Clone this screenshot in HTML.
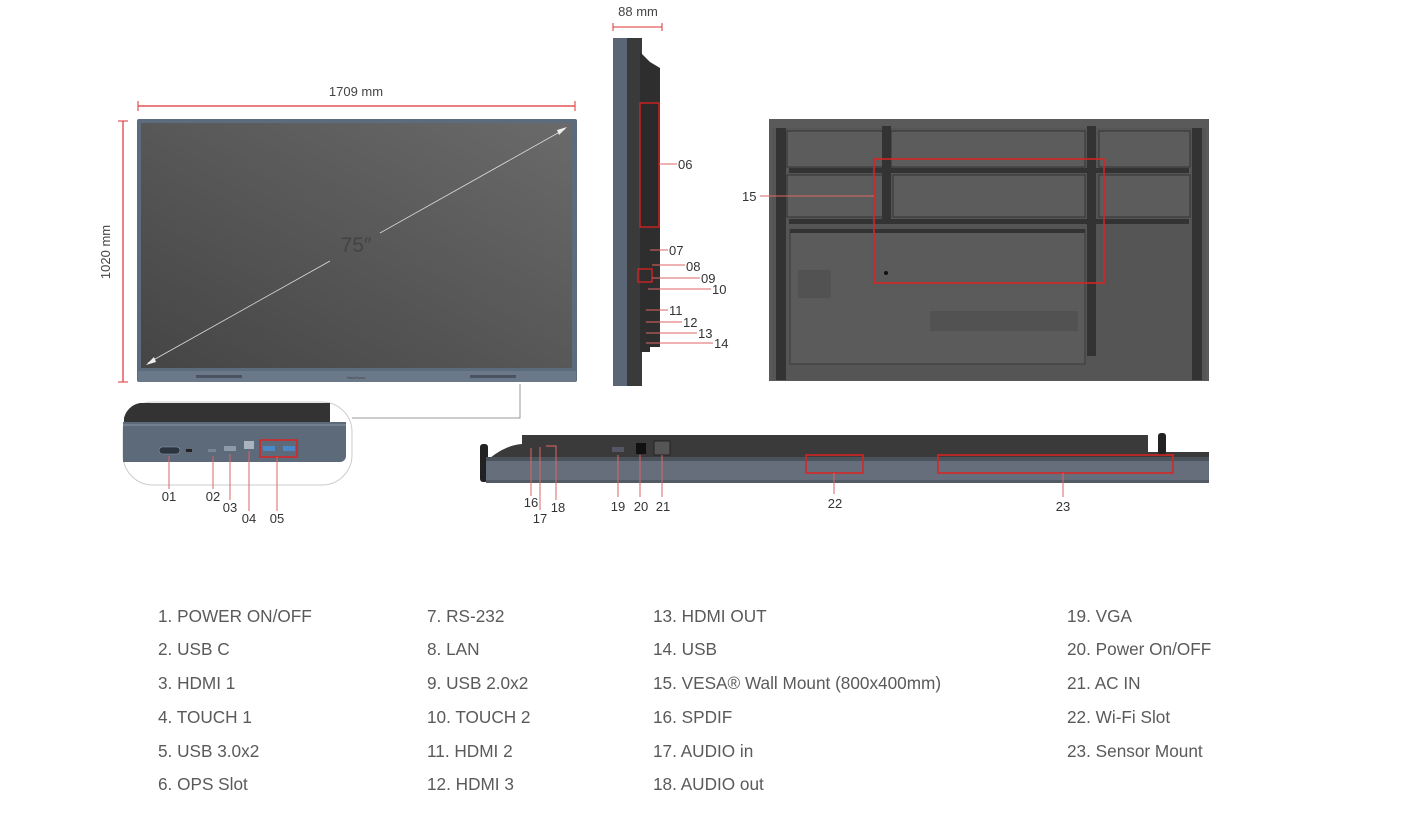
<!DOCTYPE html>
<html><head><meta charset="utf-8"><style>
html,body{margin:0;padding:0;background:#fff;width:1402px;height:815px;overflow:hidden}
svg{display:block}
text{font-family:"Liberation Sans",sans-serif;fill:#444}
.lg{font-size:17.2px;fill:#5a5a5a}
.n{font-size:13px;fill:#333}
</style></head><body>
<svg width="1402" height="815" viewBox="0 0 1402 815" xmlns="http://www.w3.org/2000/svg">
<defs>
<linearGradient id="scr" x1="0" y1="1" x2="1" y2="0">
<stop offset="0" stop-color="#454545"/><stop offset="1" stop-color="#6a6a6a"/></linearGradient>
</defs>
<text x="356" y="96" font-size="13" text-anchor="middle">1709 mm</text>
<line x1="138" y1="106" x2="575" y2="106" stroke="#d33" stroke-width="1.2"/>
<line x1="138" y1="101" x2="138" y2="111" stroke="#d33"/><line x1="575" y1="101" x2="575" y2="111" stroke="#d33"/>
<text x="0" y="0" font-size="13" text-anchor="middle" transform="translate(110 252) rotate(-90)">1020 mm</text>
<line x1="123" y1="121" x2="123" y2="382" stroke="#d33" stroke-width="1.2"/>
<line x1="118" y1="121" x2="128" y2="121" stroke="#d33"/><line x1="118" y1="382" x2="128" y2="382" stroke="#d33"/>
<rect x="137" y="119" width="440" height="263" rx="2" fill="#5d6c7d"/>
<rect x="141" y="123" width="431" height="245" fill="url(#scr)"/>
<rect x="138" y="371" width="438" height="11" fill="#6b7889"/>
<rect x="196" y="375" width="46" height="3" fill="#4a5360"/><rect x="470" y="375" width="46" height="3" fill="#4a5360"/>
<text x="356" y="379" font-size="4" text-anchor="middle" fill="#222">ViewSonic</text>
<line x1="148" y1="363" x2="330" y2="261" stroke="#ddd" stroke-width="0.8"/>
<line x1="380" y1="233" x2="565" y2="129" stroke="#ddd" stroke-width="0.8"/>
<polygon points="146,365 154,357 156,362" fill="#eee"/><polygon points="567,127 559,135 557,130" fill="#eee"/>
<text x="356" y="252" font-size="21" text-anchor="middle" fill="#ececec">75″</text>
<polyline points="352,418 520,418 520,384" fill="none" stroke="#999"/>
<path d="M153,402 H322 A30,30 0 0 1 352,432 V455 A30,30 0 0 1 322,485 H153 A30,30 0 0 1 123,455 V432 A30,30 0 0 1 153,402 Z" fill="#fff" stroke="#ccc"/>
<path d="M140,403 H330 V422 H124 V418 A20,20 0 0 1 140,403 Z" fill="#333"/>
<path d="M123,422 H346 V456 A6,6 0 0 1 340,462 H123 Z" fill="#5c6a7a"/>
<line x1="123" y1="425" x2="346" y2="425" stroke="#8896a5" stroke-width="1"/>
<rect x="159" y="447" width="21" height="7" rx="3.5" fill="#2c3440" stroke="#8a97a6" stroke-width="0.6"/>
<rect x="186" y="449" width="6" height="3" fill="#222"/>
<rect x="208" y="449" width="8" height="3" fill="#7a8593"/>
<rect x="224" y="446" width="12" height="5" fill="#8f9aa8"/>
<rect x="244" y="441" width="10" height="8" fill="#aab4bf"/>
<rect x="260" y="440" width="37" height="17" fill="none" stroke="#d22" stroke-width="1.5"/>
<rect x="263" y="446" width="12" height="5" fill="#4a88c8"/><rect x="283" y="446" width="12" height="5" fill="#4a88c8"/>
<g stroke="#d66" stroke-width="1">
<line x1="169" y1="456" x2="169" y2="489"/><line x1="213" y1="456" x2="213" y2="489"/>
<line x1="230" y1="454" x2="230" y2="500"/><line x1="249" y1="451" x2="249" y2="511"/><line x1="277" y1="457" x2="277" y2="511"/></g>
<text class="n" x="169" y="501" text-anchor="middle">01</text>
<text class="n" x="213" y="501" text-anchor="middle">02</text>
<text class="n" x="230" y="512" text-anchor="middle">03</text>
<text class="n" x="249" y="523" text-anchor="middle">04</text>
<text class="n" x="277" y="523" text-anchor="middle">05</text>
<text x="638" y="16" font-size="13" text-anchor="middle">88 mm</text>
<line x1="613" y1="27" x2="662" y2="27" stroke="#d33"/>
<line x1="613" y1="23" x2="613" y2="31" stroke="#d33"/><line x1="662" y1="23" x2="662" y2="31" stroke="#d33"/>
<rect x="613" y="38" width="14" height="348" fill="#5a6676"/>
<rect x="627" y="38" width="15" height="348" fill="#3a3a3a"/>
<polygon points="640,52 650,62 660,68 660,347 650,347 650,352 640,352" fill="#2e2e2e"/>
<rect x="640" y="103" width="19" height="124" fill="#2a2a2a" stroke="#d22" stroke-width="1.3"/>
<rect x="638" y="269" width="14" height="13" fill="none" stroke="#d22" stroke-width="1.3"/>
<g stroke="#d66" stroke-width="1">
<line x1="659" y1="164" x2="677" y2="164"/><line x1="650" y1="250" x2="668" y2="250"/>
<line x1="652" y1="265" x2="685" y2="265"/><line x1="652" y1="278" x2="700" y2="278"/>
<line x1="648" y1="289" x2="711" y2="289"/><line x1="646" y1="310" x2="668" y2="310"/>
<line x1="646" y1="322" x2="682" y2="322"/><line x1="646" y1="333" x2="697" y2="333"/><line x1="646" y1="343" x2="713" y2="343"/></g>
<text class="n" x="678" y="169">06</text><text class="n" x="669" y="255">07</text>
<text class="n" x="686" y="271">08</text><text class="n" x="701" y="283">09</text>
<text class="n" x="712" y="294">10</text><text class="n" x="669" y="315">11</text>
<text class="n" x="683" y="327">12</text><text class="n" x="698" y="338">13</text><text class="n" x="714" y="348">14</text>
<rect x="769" y="119" width="440" height="262" fill="#5a5a5a"/>
<rect x="772" y="128" width="434" height="252" fill="#555"/>
<rect x="776" y="128" width="10" height="252" fill="#333"/><rect x="1192" y="128" width="10" height="252" fill="#333"/>
<rect x="787" y="131" width="96" height="36" fill="#5c5c5c" stroke="#333"/>
<rect x="891" y="131" width="194" height="36" fill="#5c5c5c" stroke="#333"/>
<rect x="1099" y="131" width="91" height="36" fill="#5c5c5c" stroke="#333"/>
<rect x="787" y="175" width="96" height="42" fill="#5c5c5c" stroke="#333"/>
<rect x="893" y="175" width="192" height="42" fill="#5c5c5c" stroke="#333"/>
<rect x="1099" y="175" width="91" height="42" fill="#5c5c5c" stroke="#333"/>
<rect x="789" y="168" width="400" height="5" fill="#333"/><rect x="789" y="219" width="400" height="5" fill="#333"/>
<rect x="882" y="126" width="9" height="98" fill="#333"/><rect x="1087" y="126" width="9" height="230" fill="#333"/>
<rect x="790" y="230" width="295" height="134" fill="#5b5b5b" stroke="#3a3a3a"/>
<rect x="790" y="229" width="295" height="4" fill="#333"/>
<rect x="930" y="311" width="148" height="20" fill="#525252"/>
<rect x="798" y="270" width="33" height="28" fill="#525252"/>
<circle cx="886" cy="273" r="2" fill="#111"/>
<rect x="874" y="159" width="230" height="124" fill="none" stroke="#d22" stroke-width="1.5"/>
<line x1="760" y1="196" x2="874" y2="196" stroke="#d66"/>
<text class="n" x="742" y="201">15</text>
<rect x="522" y="435" width="626" height="24" fill="#3a3a3a"/>
<rect x="1148" y="452" width="61" height="6" fill="#3a3a3a"/>
<path d="M490,458 C500,450 510,445 522,444 V458 Z" fill="#3a3a3a"/>
<rect x="480" y="444" width="8" height="38" rx="3" fill="#222"/>
<rect x="1158" y="433" width="8" height="22" rx="3" fill="#222"/>
<rect x="486" y="457" width="723" height="26" fill="#656e7a"/>
<rect x="486" y="457" width="723" height="4" fill="#4a525c"/>
<rect x="486" y="480" width="723" height="3" fill="#525a64"/>
<rect x="636" y="443" width="10" height="11" fill="#111"/>
<rect x="654" y="441" width="16" height="14" fill="#555" stroke="#222"/>
<rect x="612" y="447" width="12" height="5" fill="#556"/>
<rect x="806" y="455" width="57" height="18" fill="none" stroke="#d22" stroke-width="1.5"/>
<rect x="938" y="455" width="235" height="18" fill="none" stroke="#d22" stroke-width="1.5"/>
<g stroke="#d66" stroke-width="1">
<line x1="531" y1="448" x2="531" y2="496"/><line x1="540" y1="447" x2="540" y2="510"/>
<polyline points="546,446 556,446 556,500" fill="none"/>
<line x1="618" y1="455" x2="618" y2="497"/><line x1="640" y1="455" x2="640" y2="497"/><line x1="662" y1="455" x2="662" y2="497"/>
<line x1="834" y1="473" x2="834" y2="494"/><line x1="1063" y1="473" x2="1063" y2="497"/></g>
<text class="n" x="531" y="507" text-anchor="middle">16</text>
<text class="n" x="540" y="523" text-anchor="middle">17</text>
<text class="n" x="558" y="512" text-anchor="middle">18</text>
<text class="n" x="618" y="511" text-anchor="middle">19</text>
<text class="n" x="641" y="511" text-anchor="middle">20</text>
<text class="n" x="663" y="511" text-anchor="middle">21</text>
<text class="n" x="835" y="508" text-anchor="middle">22</text>
<text class="n" x="1063" y="511" text-anchor="middle">23</text>
<text class="lg" x="158" y="622">1. POWER ON/OFF</text>
<text class="lg" x="158" y="655">2. USB C</text>
<text class="lg" x="158" y="689">3. HDMI 1</text>
<text class="lg" x="158" y="723">4. TOUCH 1</text>
<text class="lg" x="158" y="757">5. USB 3.0x2</text>
<text class="lg" x="158" y="790">6. OPS Slot</text>
<text class="lg" x="427" y="622">7. RS-232</text>
<text class="lg" x="427" y="655">8. LAN</text>
<text class="lg" x="427" y="689">9. USB 2.0x2</text>
<text class="lg" x="427" y="723">10. TOUCH 2</text>
<text class="lg" x="427" y="757">11. HDMI 2</text>
<text class="lg" x="427" y="790">12. HDMI 3</text>
<text class="lg" x="653" y="622">13. HDMI OUT</text>
<text class="lg" x="653" y="655">14. USB</text>
<text class="lg" x="653" y="689">15. VESA® Wall Mount (800x400mm)</text>
<text class="lg" x="653" y="723">16. SPDIF</text>
<text class="lg" x="653" y="757">17. AUDIO in</text>
<text class="lg" x="653" y="790">18. AUDIO out</text>
<text class="lg" x="1067" y="622">19. VGA</text>
<text class="lg" x="1067" y="655">20. Power On/OFF</text>
<text class="lg" x="1067" y="689">21. AC IN</text>
<text class="lg" x="1067" y="723">22. Wi-Fi Slot</text>
<text class="lg" x="1067" y="757">23. Sensor Mount</text>
</svg>
</body></html>
